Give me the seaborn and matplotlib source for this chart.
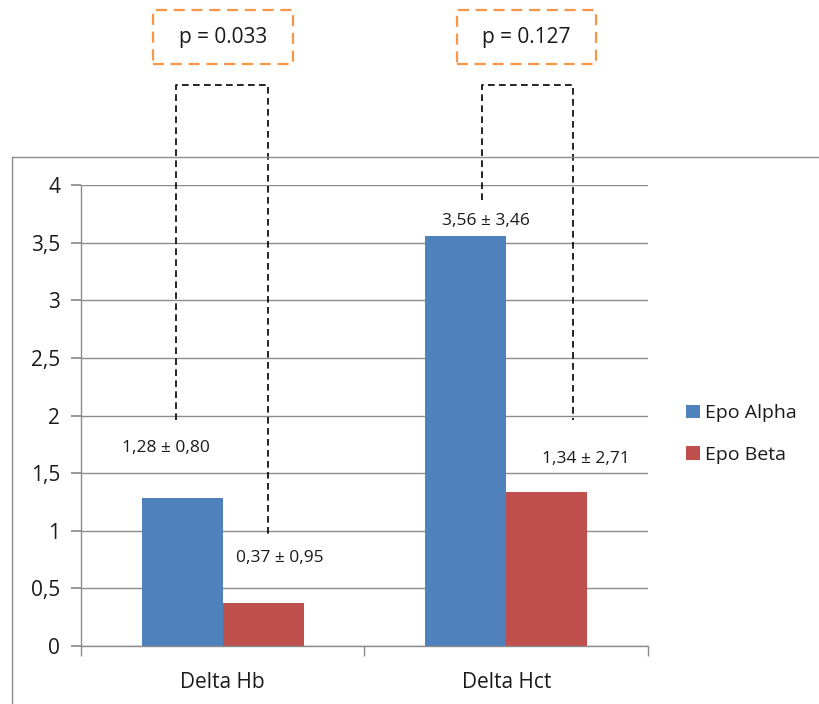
import matplotlib
matplotlib.use("Agg")
import matplotlib.pyplot as plt
import pandas as pd
import seaborn as sns
from matplotlib.patches import Rectangle
from matplotlib.ticker import FuncFormatter

categories = ["Delta Hb", "Delta Hct"]
groups = ["Epo Alpha", "Epo Beta"]
alpha_mean = [1.28, 3.56]
beta_mean = [0.37, 1.34]
alpha_sd = [0.80, 3.46]
beta_sd = [0.95, 2.71]
p_values = ["0.033", "0.127"]

df = pd.DataFrame({
    "category": categories * 2,
    "group": [groups[0]] * 2 + [groups[1]] * 2,
    "value": alpha_mean + beta_mean,
})

sns.set_theme(style="white")
plt.rcParams["font.family"] = ["Open Sans", "DejaVu Sans"]

fig = plt.figure(figsize=(8.2, 7.04), dpi=100)
ax = fig.add_axes([81 / 820, 1 - 646 / 704, 567 / 820, 461 / 704])

sns.barplot(data=df, x="category", y="value", hue="group", order=categories,
            hue_order=groups, palette=["#4F81BD", "#C0504D"], saturation=1,
            width=0.57, errorbar=None, linewidth=0, ax=ax)

grid_c = "#8c8c8c"
txt_c = "#1a1a1a"
ax.set_xlim(-0.5, 1.5)
ax.set_ylim(0, 4)
ax.set_yticks([0, 0.5, 1, 1.5, 2, 2.5, 3, 3.5, 4])
ax.yaxis.set_major_formatter(FuncFormatter(lambda v, _: f"{v:g}".replace(".", ",")))
ax.grid(axis="y", color=grid_c, lw=1)
ax.set_axisbelow(True)
for s in ["top", "right"]:
    ax.spines[s].set_visible(False)
for s in ["left", "bottom"]:
    ax.spines[s].set_color(grid_c)
    ax.spines[s].set_linewidth(1)
ax.tick_params(axis="y", left=True, length=7, color=grid_c, labelsize=15,
               labelcolor=txt_c, pad=8)
ax.tick_params(axis="x", bottom=False, labelsize=15, labelcolor=txt_c, pad=13)
ax.set_xticks([-0.5, 0.5, 1.5], minor=True)
ax.tick_params(axis="x", which="minor", bottom=True, length=7, color=grid_c)
ax.set_xlabel("")
ax.set_ylabel("")

# mean +- sd labels
lab_pos = [(-0.2, 1.72), (0.2, 0.76), (0.93, 3.69), (1.28, 1.62)]
lab_txt = [f"{m:.2f} ± {s:.2f}".replace(".", ",")
           for m, s in zip(alpha_mean + beta_mean, alpha_sd + beta_sd)]
order = [0, 2, 1, 3]
for (x, y), i in zip(lab_pos, order):
    ax.text(x, y, lab_txt[i], ha="center", va="center", fontsize=12.5, color=txt_c)

# significance brackets
dash = (0, (4, 2.6))
brackets = [(-0.165, 0.16, 1.96, 0.96), (0.914, 1.235, 3.87, 1.96)]
top = 4.87
for xl, xr, yl, yr in brackets:
    ax.plot([xl, xl, xr, xr], [yl, top, top, yr], color="black", lw=1.2,
            ls=dash, clip_on=False)

# p-value boxes
for (x0, x1), p in zip([(153, 293), (457, 596)], p_values):
    fig.patches.append(Rectangle((x0 / 820, 1 - 64 / 704), (x1 - x0) / 820, 54 / 704,
                                 transform=fig.transFigure, fill=False,
                                 ec="#F79646", lw=1.6, ls=(0, (5, 3))))
    fig.text((x0 + x1) / 2 / 820, 1 - 37 / 704, f"p = {p}", ha="center",
             va="center", fontsize=15, color=txt_c)

# outer chart frame
fig.patches.append(Rectangle((12 / 820, -0.05), 1.1, 1 - 157 / 704 + 0.05,
                             transform=fig.transFigure, fill=False,
                             ec="#8c8c8c", lw=1))

handles, labels = ax.get_legend_handles_labels()
ax.legend(handles, labels, loc="center left", bbox_to_anchor=(686 / 820, 1 - 434 / 704),
          bbox_transform=fig.transFigure, frameon=False, fontsize=14,
          labelcolor=txt_c, handlelength=0.7, handleheight=0.7,
          handletextpad=0.3, labelspacing=1.2, borderpad=0, borderaxespad=0)

fig.savefig("out.png", dpi=100)
